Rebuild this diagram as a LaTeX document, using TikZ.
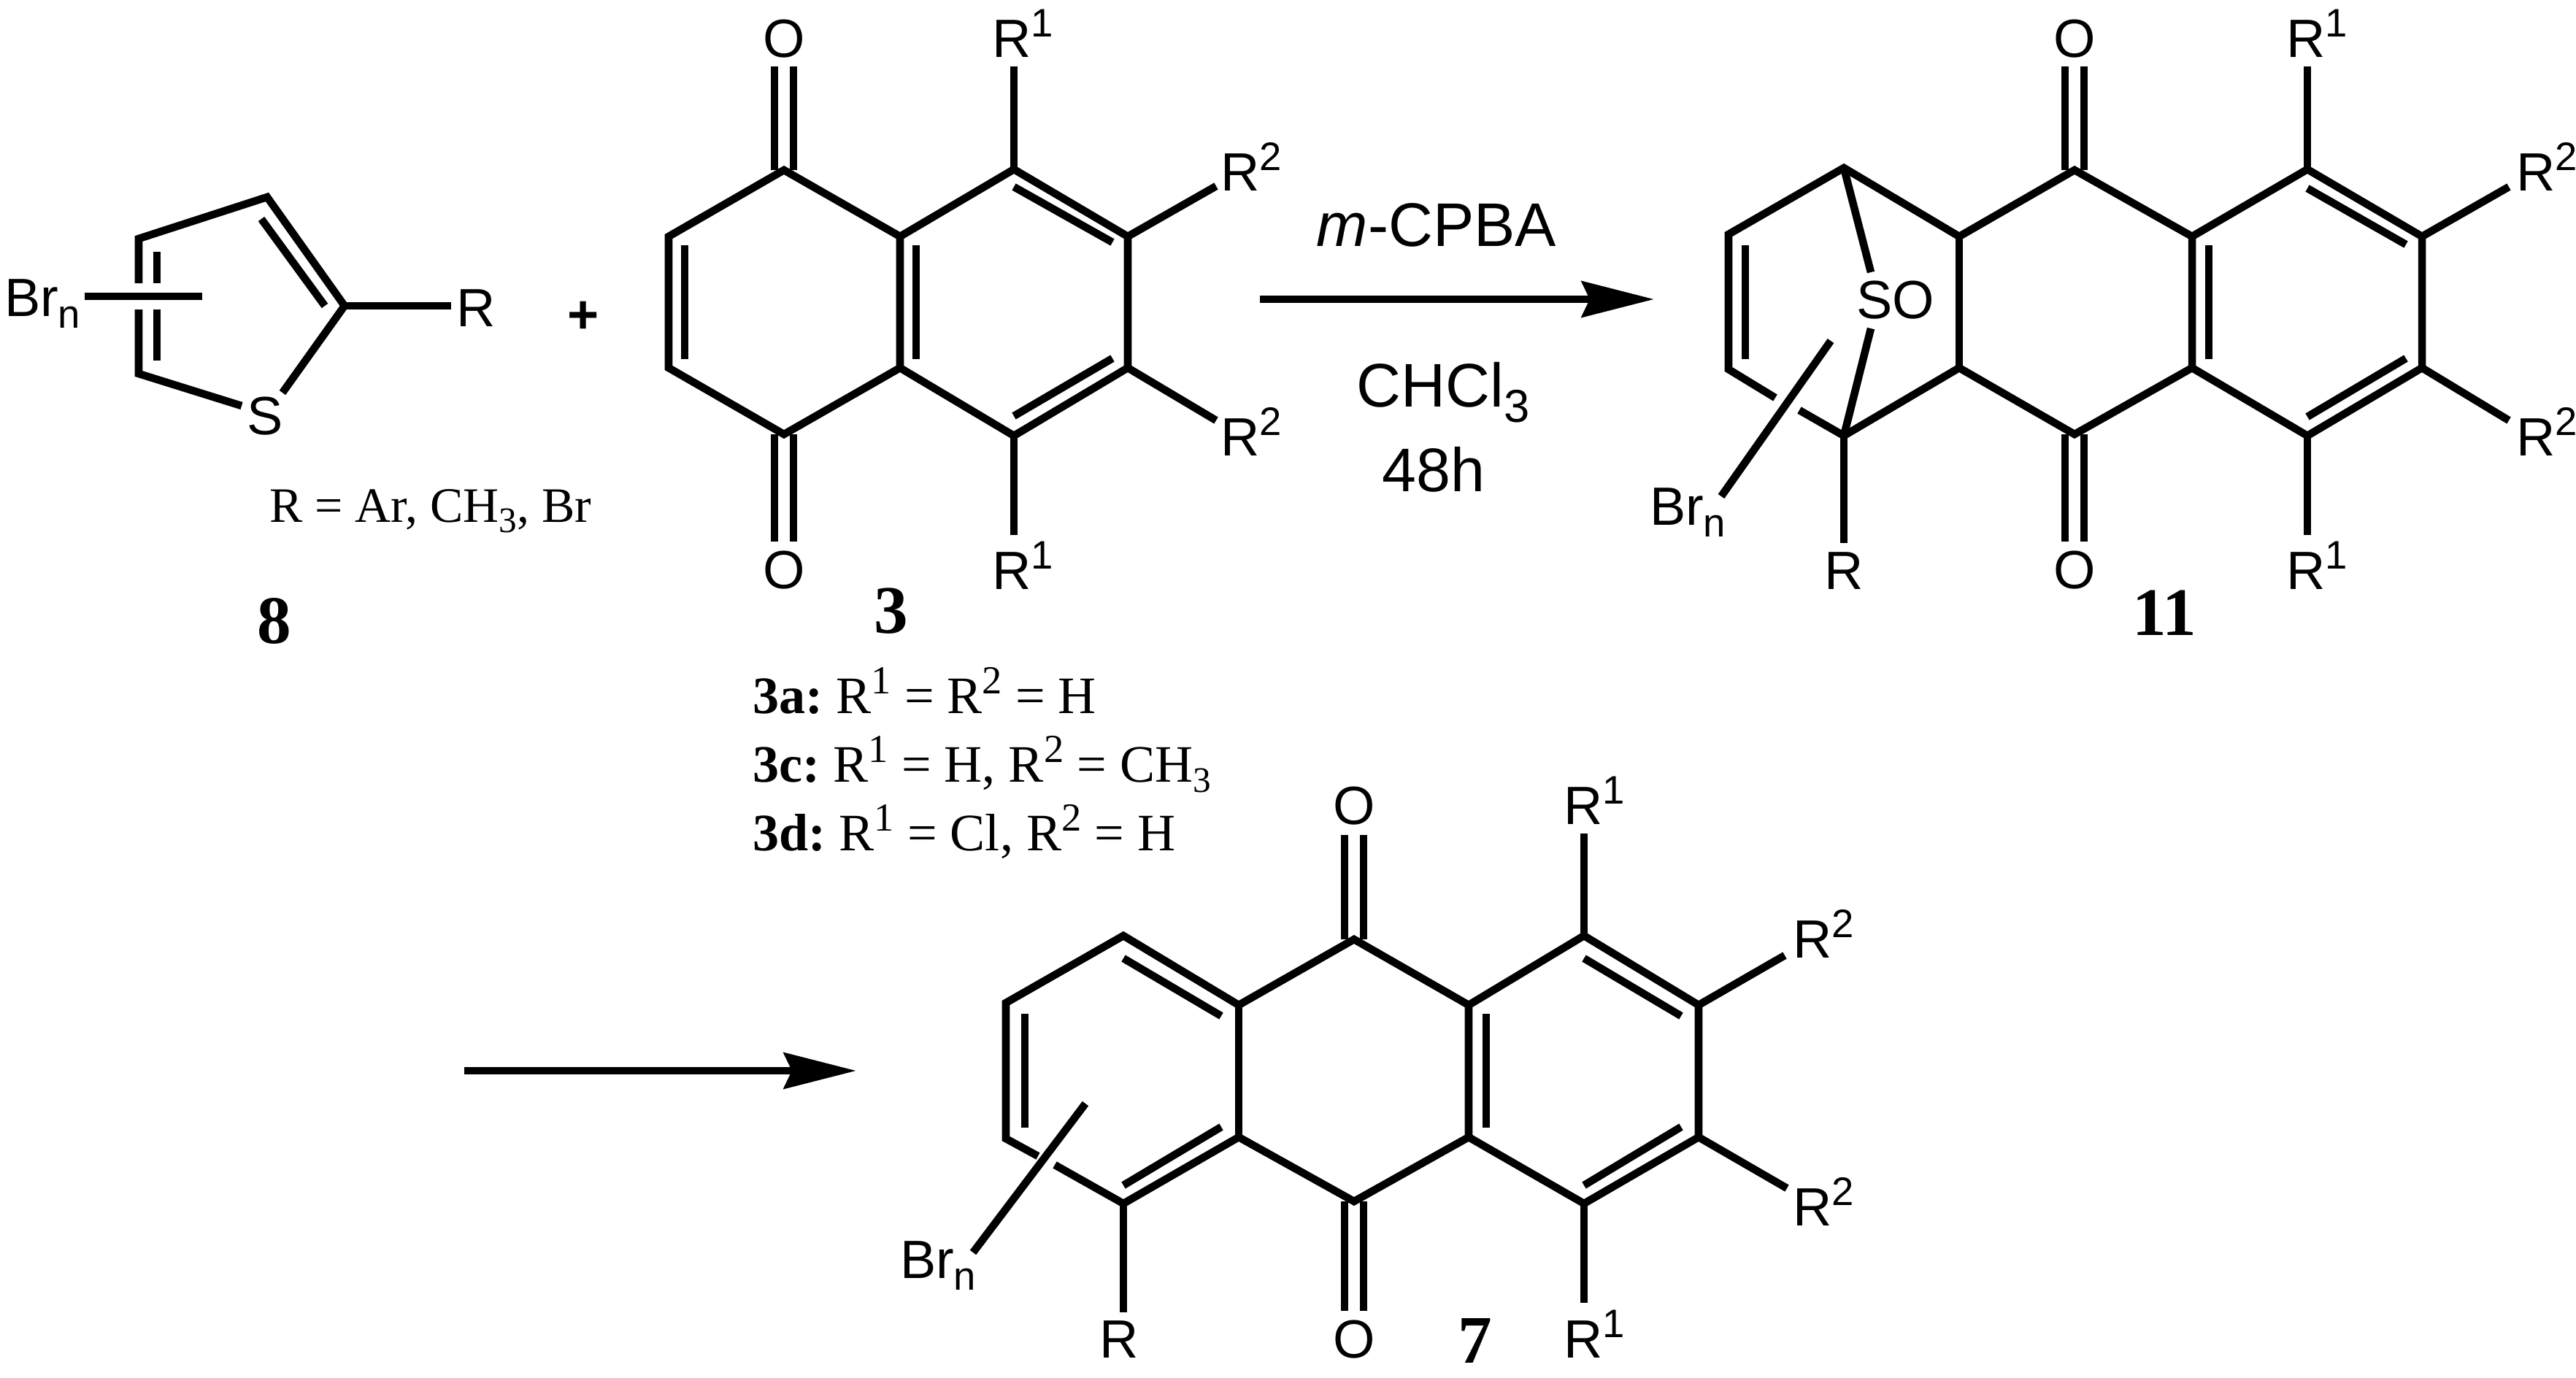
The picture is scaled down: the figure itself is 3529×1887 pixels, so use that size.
\documentclass[tikz,border=0pt]{standalone}
\usepackage{fontspec}
\setmainfont{Liberation Serif}
\newfontfamily\arialfont{Liberation Sans}
\usetikzlibrary{arrows.meta}
\newcommand{\asup}[1]{\raisebox{7.7pt}{\fontsize{15.5}{15.5}\selectfont #1}}
\newcommand{\asub}[1]{\raisebox{-4.8pt}{\fontsize{15.5}{15.5}\selectfont #1}}
\newcommand{\tsup}[1]{\raisebox{7.5pt}{\fontsize{15.5}{15.5}\selectfont #1}}
\newcommand{\tsub}[1]{\raisebox{-4pt}{\fontsize{14}{14}\selectfont #1}}
\tikzset{
	bond/.style={line width=3pt,line join=miter},
	atom/.style={inner sep=0,outer sep=0,font=\arialfont\fontsize{21}{24}\selectfont},
	atomw/.style={atom,anchor=base west},
	atomc/.style={atom,anchor=base},
	rlabel/.style={inner sep=0,outer sep=0,anchor=base,font=\arialfont\fontsize{24}{28}\selectfont},
	numlabel/.style={inner sep=0,outer sep=0,anchor=base,font=\bfseries\fontsize{26.5}{30}\selectfont},
	note/.style={inner sep=0,outer sep=0,anchor=base west,font=\fontsize{20.5}{24}\selectfont},
	rxnarrow/.style={line width=3.1pt,-{Stealth[length=9.9mm,width=4.9mm,inset=1.1mm]}}
}
\begin{document}
\begin{tikzpicture}[x=0.01cm,y=-0.01cm]
	\useasboundingbox (0,0) rectangle (3529,1887);
	% Thiophene 8
	\foreach \n/\x/\y in {ta/190/327,tb/366/270,tc/472/419,td/387/538,te/331/556,tf/190/512,
		tg/190/388,th/190/424,tbrl/116/406,tbrr/277/406,tr/618/419}
		\coordinate (\n) at (\x,\y);
	\draw[bond] (tg) -- (ta) -- (tb) -- (tc) -- (td);
	\draw[bond] (th) -- (tf) -- (te);
	\draw[bond] (tc) -- (tr);
	\draw[bond] (tbrl) -- (tbrr);
	\draw[bond] (358,300) -- (445,419);
	\draw[bond] (215,345) -- (215,388);
	\draw[bond] (215,424) -- (215,494);
	\node[atomw] (ts) at (338,595) {S};
	\node[atomw] (tlr) at (625,447) {R};
	\node[atomw] (tlbr) at (6,433) {Br\asub{n}};
	\node[note,font=\fontsize{19.3}{24}\selectfont] (tnote) at (369,715) {R = Ar, CH\tsub{3}, Br};
	\node[numlabel] (n8) at (376,881) {8};
	\node[inner sep=0,font=\arialfont\bfseries\fontsize{21}{24}\selectfont] (plus) at (799,435) {+};
	% Quinone 3
	\foreach \n/\x/\y in {aa/1074/233,ab/916/324,ac/916/504,ad/1074/595,ae/1233/324,af/1233/504,
		ag/1389/232,ah/1545/324,ai/1545/504,aj/1389/597,
		ao/1389/91,ap/1666/255,aq/1666/576,ar/1389/733,
		as/1061/233,at/1061/91,au/1087/233,av/1087/91,
		aw/1061/595,ax/1061/742,ay/1087/595,az/1087/742}
		\coordinate (\n) at (\x,\y);
	\draw[bond] (ae) -- (aa) -- (ab) -- (ac) -- (ad) -- (af) -- (ae) -- (ag) -- (ah) -- (ai) -- (aj) -- (af);
	\draw[bond] (ag) -- (ao);
	\draw[bond] (ah) -- (ap);
	\draw[bond] (ai) -- (aq);
	\draw[bond] (aj) -- (ar);
	\draw[bond] (as) -- (at);
	\draw[bond] (au) -- (av);
	\draw[bond] (aw) -- (ax);
	\draw[bond] (ay) -- (az);
	\foreach \x/\y/\u/\v in {938/336/938/492,1255/336/1255/492,1389/256/1524/332,1524/491/1389/570}
		\draw[bond] (\x,\y) -- (\u,\v);
	\node[atomc] (ao1) at (1074,78) {O};
	\node[atomc] (ao2) at (1074,806) {O};
	\node[atomw] (ar1) at (1359,78) {R\asup{1}};
	\node[atomw] (ar2) at (1672,261) {R\asup{2}};
	\node[atomw] (ar3) at (1672,624) {R\asup{2}};
	\node[atomw] (ar4) at (1359,807) {R\asup{1}};
	\node[numlabel] (n3) at (1221,867) {3};
	\node[note] (n3a) at (1031,977) {\textbf{3a:}\hspace{-1.5pt} R\tsup{1} = R\tsup{2} = H};
	\node[note] (n3c) at (1031,1071) {\textbf{3c:}\hspace{-1.5pt} R\tsup{1} = H, R\tsup{2} = CH\tsub{3}};
	\node[note] (n3d) at (1031,1165) {\textbf{3d:}\hspace{-1.5pt} R\tsup{1} = Cl, R\tsup{2} = H};
	% First arrow
	\coordinate (ra) at (1726,410);
	\coordinate (rb) at (2266,410);
	\draw[rxnarrow] (ra) -- (rb);
	\node[rlabel] (rcpba) at (1968,337) {\textit{m}-CPBA};
	\node[rlabel] (rchcl) at (1977,557) {CHCl\raisebox{-6pt}{\fontsize{18}{18}\selectfont 3}};
	\node[rlabel] (rtime) at (1964,673) {48h};
	% Adduct 11
	\foreach \n/\x/\y in {ba/2526/230,bb/2368/321,bc/2368/506,bd/2432/545,be/2465/562,bf/2526/597,
		bg/2684/324,bh/2684/504,bi/2842/233,bj/2842/595,bk/3003/324,bl/3003/504,
		bm/3161/232,bn/3318/324,bo/3318/504,bp/3161/597,
		bq/3161/91,br/3437/256,bs/3437/576,bt/3161/733,bu/2526/744,
		bv/2563/373,bw/2563/450,bx/2508/467,by/2358/680,
		ca/2829/233,cb/2829/91,cc/2855/233,cd/2855/91,
		ce/2829/595,cf/2829/742,cg/2855/595,ch/2855/742}
		\coordinate (\n) at (\x,\y);
	\draw[bond] (bd) -- (bc) -- (bb) -- (ba) -- (bg) -- (bi) -- (bk) -- (bm) -- (bn) -- (bo) -- (bp) -- (bl) -- (bk);
	\draw[bond] (be) -- (bf) -- (bh) -- (bj) -- (bl);
	\draw[bond] (bg) -- (bh);
	\draw[bond] (ba) -- (bv);
	\draw[bond] (bf) -- (bw);
	\draw[bond] (bx) -- (by);
	\draw[bond] (bf) -- (bu);
	\draw[bond] (bm) -- (bq);
	\draw[bond] (bn) -- (br);
	\draw[bond] (bo) -- (bs);
	\draw[bond] (bp) -- (bt);
	\draw[bond] (ca) -- (cb);
	\draw[bond] (cc) -- (cd);
	\draw[bond] (ce) -- (cf);
	\draw[bond] (cg) -- (ch);
	\foreach \x/\y/\u/\v in {2391/336/2391/492,3026/336/3026/492,3161/258/3296/335,3296/491/3161/571}
		\draw[bond] (\x,\y) -- (\u,\v);
	\node[atomw] (bso) at (2543,436) {SO};
	\node[atomc] (bo1) at (2842,78) {O};
	\node[atomc] (bo2) at (2842,806) {O};
	\node[atomw] (br1) at (3132,78) {R\asup{1}};
	\node[atomw] (br2) at (3447,261) {R\asup{2}};
	\node[atomw] (br3) at (3447,624) {R\asup{2}};
	\node[atomw] (br4) at (3132,807) {R\asup{1}};
	\node[atomc] (brr) at (2526,807) {R};
	\node[atomw] (bbr) at (2260,719) {Br\asub{n}};
	\node[numlabel] (n11) at (2965,870) {11};
	% Second arrow
	\coordinate (sa) at (636,1467);
	\coordinate (sb) at (1173,1467);
	\draw[rxnarrow] (sa) -- (sb);
	% Anthraquinone 7
	\foreach \n/\x/\y in {ea/1539/1282,eb/1378/1374,ec/1378/1560,ed/1422/1584,ee/1445/1596,ef/1539/1649,
		eg/1697/1377,eh/1697/1558,ei/1855/1287,ej/1855/1646,ek/2012/1377,el/2012/1558,
		em/2170/1282,en/2327/1377,eo/2327/1558,ep/2170/1649,
		eq/2170/1142,er/2445/1309,es/2448/1628,et/2170/1785,eu/1539/1798,
		bv2/1487/1512,by2/1333/1716,
		fa/1842/1287,fb/1842/1144,fc/1868/1287,fd/1868/1144,
		fe/1842/1646,ff/1842/1796,fg/1868/1646,fh/1868/1796}
		\coordinate (\n) at (\x,\y);
	\draw[bond] (ed) -- (ec) -- (eb) -- (ea) -- (eg) -- (ei) -- (ek) -- (em) -- (en) -- (eo) -- (ep) -- (el) -- (ek);
	\draw[bond] (ee) -- (ef) -- (eh) -- (ej) -- (el);
	\draw[bond] (eg) -- (eh);
	\draw[bond] (bv2) -- (by2);
	\draw[bond] (ef) -- (eu);
	\draw[bond] (em) -- (eq);
	\draw[bond] (en) -- (er);
	\draw[bond] (eo) -- (es);
	\draw[bond] (ep) -- (et);
	\draw[bond] (fa) -- (fb);
	\draw[bond] (fc) -- (fd);
	\draw[bond] (fe) -- (ff);
	\draw[bond] (fg) -- (fh);
	\foreach \x/\y/\u/\v in {1539/1313/1673/1392,1404/1389/1404/1545,1673/1544/1539/1624,
		2036/1389/2036/1545,2170/1313/2303/1392,2303/1544/2170/1624}
		\draw[bond] (\x,\y) -- (\u,\v);
	\node[atomc] (eo1) at (1855,1129) {O};
	\node[atomc] (eo2) at (1855,1860) {O};
	\node[atomw] (er1) at (2142,1129) {R\asup{1}};
	\node[atomw] (er2) at (2456,1312) {R\asup{2}};
	\node[atomw] (er3) at (2456,1679) {R\asup{2}};
	\node[atomw] (er4) at (2142,1860) {R\asup{1}};
	\node[atomc] (err) at (1533,1860) {R};
	\node[atomw] (ebr) at (1233,1751) {Br\asub{n}};
	\node[numlabel] (n7) at (2021,1867) {7};
\end{tikzpicture}
\end{document}
